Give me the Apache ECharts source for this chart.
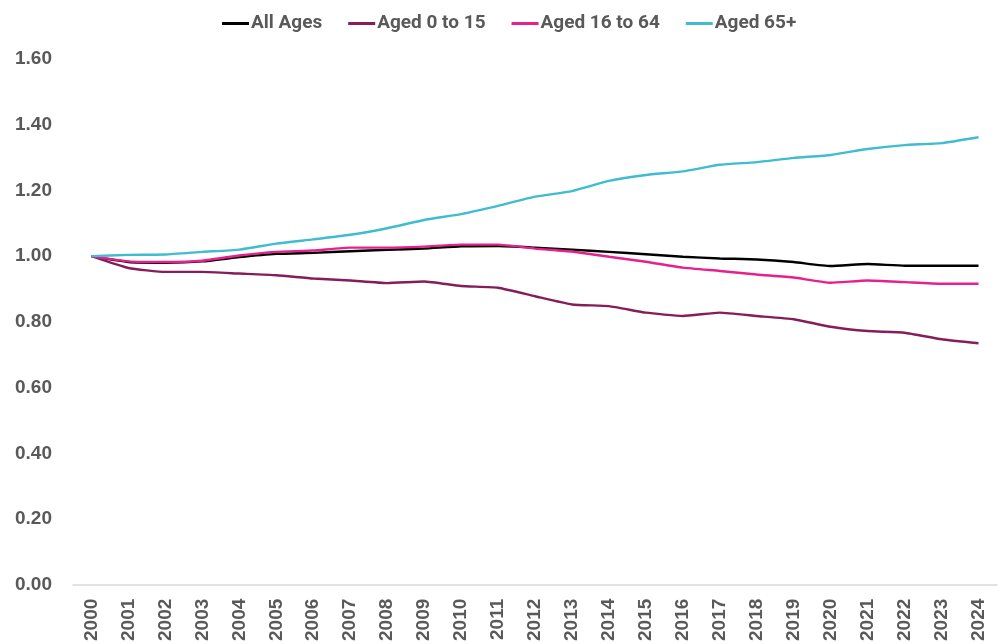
<!DOCTYPE html>
<html>
<head>
<meta charset="utf-8">
<script src="https://cdn.jsdelivr.net/npm/echarts@6/dist/echarts.min.js"></script>
<style>html,body{margin:0;padding:0;background:#fff}#c{width:1002px;height:644px}</style>
</head>
<body>
<div id="c"></div>
<script>
const years = ['2000','2001','2002','2003','2004','2005','2006','2007','2008','2009','2010','2011','2012','2013','2014','2015','2016','2017','2018','2019','2020','2021','2022','2023','2024'];
const allAges = [1.000,0.982,0.980,0.984,0.997,1.007,1.010,1.015,1.019,1.023,1.030,1.031,1.026,1.020,1.013,1.006,0.998,0.993,0.990,0.982,0.970,0.976,0.971,0.971,0.971];
const aged0to15 = [1.000,0.964,0.952,0.952,0.947,0.942,0.932,0.926,0.918,0.923,0.909,0.904,0.878,0.853,0.848,0.828,0.818,0.828,0.818,0.808,0.785,0.772,0.767,0.747,0.735];
const aged16to64 = [1.000,0.984,0.982,0.986,1.002,1.013,1.017,1.026,1.026,1.029,1.035,1.035,1.023,1.014,0.998,0.983,0.965,0.955,0.944,0.935,0.919,0.926,0.921,0.916,0.916];
const aged65plus = [1.000,1.004,1.005,1.013,1.020,1.038,1.051,1.065,1.085,1.110,1.128,1.153,1.181,1.198,1.229,1.247,1.258,1.278,1.286,1.299,1.308,1.326,1.338,1.344,1.362];
const seriesNames = ['All Ages','Aged 0 to 15','Aged 16 to 64','Aged 65+'];
const colors = ['#000000','#861D5B','#E6208C','#40BCD0'];

const chart = echarts.init(document.getElementById('c'), null, {renderer:'canvas'});
const dataSets = [allAges, aged0to15, aged16to64, aged65plus];
chart.setOption({
  animation: false,
  color: colors,
  legend: {
    top: 9,
    left: 217,
    itemWidth: 27,
    itemHeight: 3,
    itemGap: 26,
    icon: 'rect',
    textStyle: {fontFamily: 'Roboto', fontWeight: 'bold', fontSize: 19, color: '#595959', padding:[0,0,0,-3]},
    data: seriesNames
  },
  grid: {left: 73, right: 5, top: 59, bottom: 58},
  xAxis: {
    type: 'category',
    data: years,
    boundaryGap: true,
    axisLine: {lineStyle: {color: '#d9d9d9', width: 1.5}},
    axisTick: {show: false},
    axisLabel: {rotate: 90, margin: 14, interval: 0, fontFamily: 'Liberation Sans', fontWeight: 'bold', fontSize: 19, color: '#595959'}
  },
  yAxis: {
    type: 'value',
    min: 0,
    max: 1.6,
    interval: 0.2,
    splitLine: {show: false},
    axisLine: {show: false},
    axisTick: {show: false},
    axisLabel: {margin: 21, fontFamily: 'Liberation Sans', fontWeight: 'bold', fontSize: 19, color: '#595959', formatter: v => v.toFixed(2)}
  },
  series: seriesNames.map((n, i) => ({
    name: n,
    type: 'line',
    data: dataSets[i],
    symbol: 'none',
    smooth: 0.15,
    lineStyle: {width: 2.4, color: colors[i]},
    z: i === 0 ? 2 : 3
  }))
});
</script>
</body>
</html>
